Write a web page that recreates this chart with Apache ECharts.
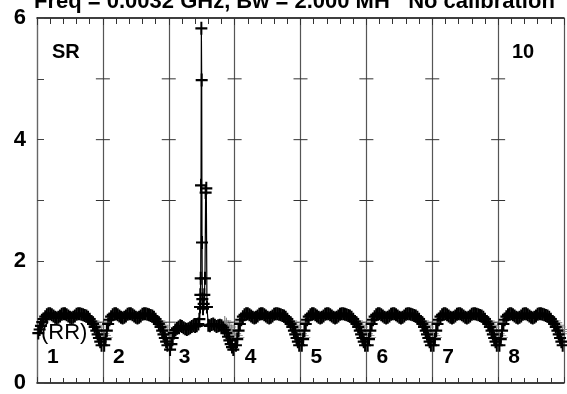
<!DOCTYPE html>
<html>
<head>
<meta charset="utf-8">
<script src="https://cdn.jsdelivr.net/npm/echarts@6/dist/echarts.min.js"></script>
<style>
  html, body { margin: 0; padding: 0; background: #fff; }
  #main { width: 567px; height: 394px; }
</style>
</head>
<body>
<div id="main"></div>
<script>
const titleText = 'Freq = 0.0032 GHz, Bw = 2.000 MH   No calibration'
const segmentLabels = ['1', '2', '3', '4', '5', '6', '7', '8']
const yTickLabels = ['0', '', '2', '', '4', '', '6']
const dividerX = [1, 2, 3, 4, 5, 6, 7]
const dividerTickY = [1, 2, 3, 4, 5]

// position inside one segment (0..1) and the usual trace shape
const localX = [0.02, 0.04, 0.06, 0.08, 0.10, 0.125, 0.15, 0.175, 0.20, 0.225, 0.25, 0.275, 0.30, 0.325, 0.35, 0.375, 0.40, 0.425, 0.45, 0.475, 0.50, 0.525, 0.55, 0.575, 0.60, 0.625, 0.65, 0.675, 0.70, 0.725, 0.75, 0.775, 0.80, 0.825, 0.85, 0.875, 0.90, 0.92, 0.94, 0.96, 0.98]
const typicalY = [0.62, 0.72, 0.86, 0.97, 1.04, 1.09, 1.12, 1.14, 1.14, 1.12, 1.10, 1.08, 1.07, 1.08, 1.10, 1.13, 1.14, 1.14, 1.12, 1.10, 1.08, 1.07, 1.08, 1.10, 1.13, 1.14, 1.14, 1.13, 1.12, 1.11, 1.10, 1.08, 1.05, 1.01, 0.97, 0.92, 0.86, 0.80, 0.74, 0.68, 0.62]
const seg1Y = [0.82, 0.88, 0.94, 1.0, 1.05, 1.09, 1.12, 1.14, 1.14, 1.12, 1.10, 1.08, 1.07, 1.08, 1.10, 1.13, 1.14, 1.14, 1.12, 1.10, 1.08, 1.07, 1.08, 1.10, 1.13, 1.14, 1.14, 1.13, 1.12, 1.11, 1.10, 1.08, 1.05, 1.01, 0.97, 0.92, 0.86, 0.80, 0.74, 0.68, 0.62]
// segment 3 is lower and has the spike
const seg3X = [0.02, 0.04, 0.06, 0.08, 0.10, 0.125, 0.15, 0.175, 0.20, 0.225, 0.25, 0.275, 0.30, 0.325, 0.35, 0.375, 0.40, 0.425, 0.45, 0.465, 0.475, 0.48, 0.485, 0.49, 0.495, 0.50, 0.505, 0.51, 0.52, 0.53, 0.54, 0.55, 0.56, 0.57, 0.58, 0.60, 0.625, 0.65, 0.675, 0.70, 0.725, 0.75, 0.775, 0.80, 0.825, 0.85, 0.875, 0.90, 0.92, 0.94, 0.96, 0.98]
const seg3Y = [0.55, 0.64, 0.74, 0.82, 0.87, 0.90, 0.92, 0.94, 0.93, 0.91, 0.89, 0.88, 0.89, 0.91, 0.93, 0.94, 0.93, 0.94, 0.97, 1.05, 1.25, 1.45, 1.72, 3.25, 5.83, 4.98, 2.31, 1.38, 1.22, 1.30, 1.45, 1.72, 3.13, 3.2, 1.25, 0.95, 0.94, 0.96, 0.97, 0.95, 0.93, 0.94, 0.95, 0.94, 0.91, 0.87, 0.82, 0.76, 0.70, 0.64, 0.59, 0.55]
// grey trace around each segment boundary
const grayOffset = [-0.15, -0.125, -0.10, -0.075, -0.05, -0.025, 0.0, 0.025, 0.05]
const grayY = [1.02, 0.99, 0.95, 0.92, 0.88, 0.85, 0.81, 0.78, 0.75]

const plus = 'path://M0,5H12V7H0Z M5,0H7V12H5Z'
const grayPlus = 'path://M0,5.5H12V6.5H0Z M5.5,0H6.5V12H5.5Z'

const chart = echarts.init(document.getElementById('main'))

const series = []
for (let b = 1; b <= 8; b++) {
  series.push({
    type: 'line',
    z: 2,
    data: grayOffset.map((o, k) => [b + o, grayY[k]]),
    symbol: grayPlus,
    symbolSize: [13, 10],
    itemStyle: { color: '#808080' },
    lineStyle: { color: '#808080', width: 1 },
  })
}
for (let s = 0; s < 8; s++) {
  let xs = localX
  let ys = typicalY
  if (s === 0) ys = seg1Y
  if (s === 2) { xs = seg3X; ys = seg3Y }
  series.push({
    type: 'line',
    z: 3,
    data: xs.map((lx, k) => [s + lx, ys[k]]),
    symbol: plus,
    symbolSize: [12, 13],
    itemStyle: { color: '#000' },
    lineStyle: { color: '#000', width: 1.2 },
  })
}
// little cross ticks on the segment dividers
const tickData = []
dividerX.forEach(d => dividerTickY.forEach(y => tickData.push([d, y])))
series.push({
  type: 'custom',
  z: 4,
  data: tickData,
  renderItem: (params, api) => {
    const p = api.coord([api.value(0), api.value(1)])
    return {
      type: 'line',
      shape: { x1: p[0] - 7, y1: p[1], x2: p[0] + 7, y2: p[1] },
      style: { stroke: '#333', lineWidth: 1 },
    }
  },
})

const option = {
  animation: false,
  grid: { left: 37, right: 0, top: 18, bottom: 10 },
  xAxis: [
    {
      type: 'value',
      min: 0,
      max: 8,
      interval: 1,
      axisLine: { lineStyle: { color: '#000', width: 1.5 } },
      axisTick: { inside: true, length: 6, lineStyle: { color: '#333' } },
      minorTick: { show: true, splitNumber: 5, length: 5, lineStyle: { color: '#333' } },
      splitLine: { show: true, lineStyle: { color: '#555', width: 1.2 } },
      axisLabel: {
        inside: true,
        margin: 15,
        align: 'left',
        padding: [0, 0, 0, 10],
        color: '#000',
        fontFamily: 'Liberation Sans',
        fontWeight: 'bold',
        fontSize: 21,
        formatter: v => segmentLabels[v] || '',
      },
    },
    {
      type: 'value',
      position: 'top',
      min: 0,
      max: 8,
      interval: 1,
      axisLine: { lineStyle: { color: '#000', width: 1.5 } },
      axisTick: { inside: true, length: 7, lineStyle: { color: '#333' } },
      minorTick: { show: true, splitNumber: 5, length: 6, lineStyle: { color: '#333' } },
      splitLine: { show: false },
      axisLabel: { show: false },
    },
  ],
  yAxis: {
    type: 'value',
    min: 0,
    max: 6,
    interval: 1,
    axisLine: { show: true, lineStyle: { color: '#666', width: 1.2 } },
    axisTick: { inside: true, length: 7, lineStyle: { color: '#444' } },
    splitLine: { show: false },
    axisLabel: {
      margin: 11,
      color: '#000',
      fontFamily: 'Liberation Sans',
      fontWeight: 'bold',
      fontSize: 22,
      formatter: v => yTickLabels[v] || '',
    },
  },
  graphic: [
    { type: 'text', left: 34, top: -9, style: { text: titleText, fill: '#000', font: 'bold 22px "Liberation Sans"' } },
    { type: 'text', left: 52, top: 42, style: { text: 'SR', fill: '#000', font: 'bold 20px "Liberation Sans"' } },
    { type: 'text', left: 512, top: 42, style: { text: '10', fill: '#000', font: 'bold 20px "Liberation Sans"' } },
    { type: 'text', left: 41, top: 322, z: 10, style: { text: '(RR)', fill: '#000', font: '22px "Liberation Sans"' } },
  ],
  series: series,
}

chart.setOption(option)
</script>
</body>
</html>
